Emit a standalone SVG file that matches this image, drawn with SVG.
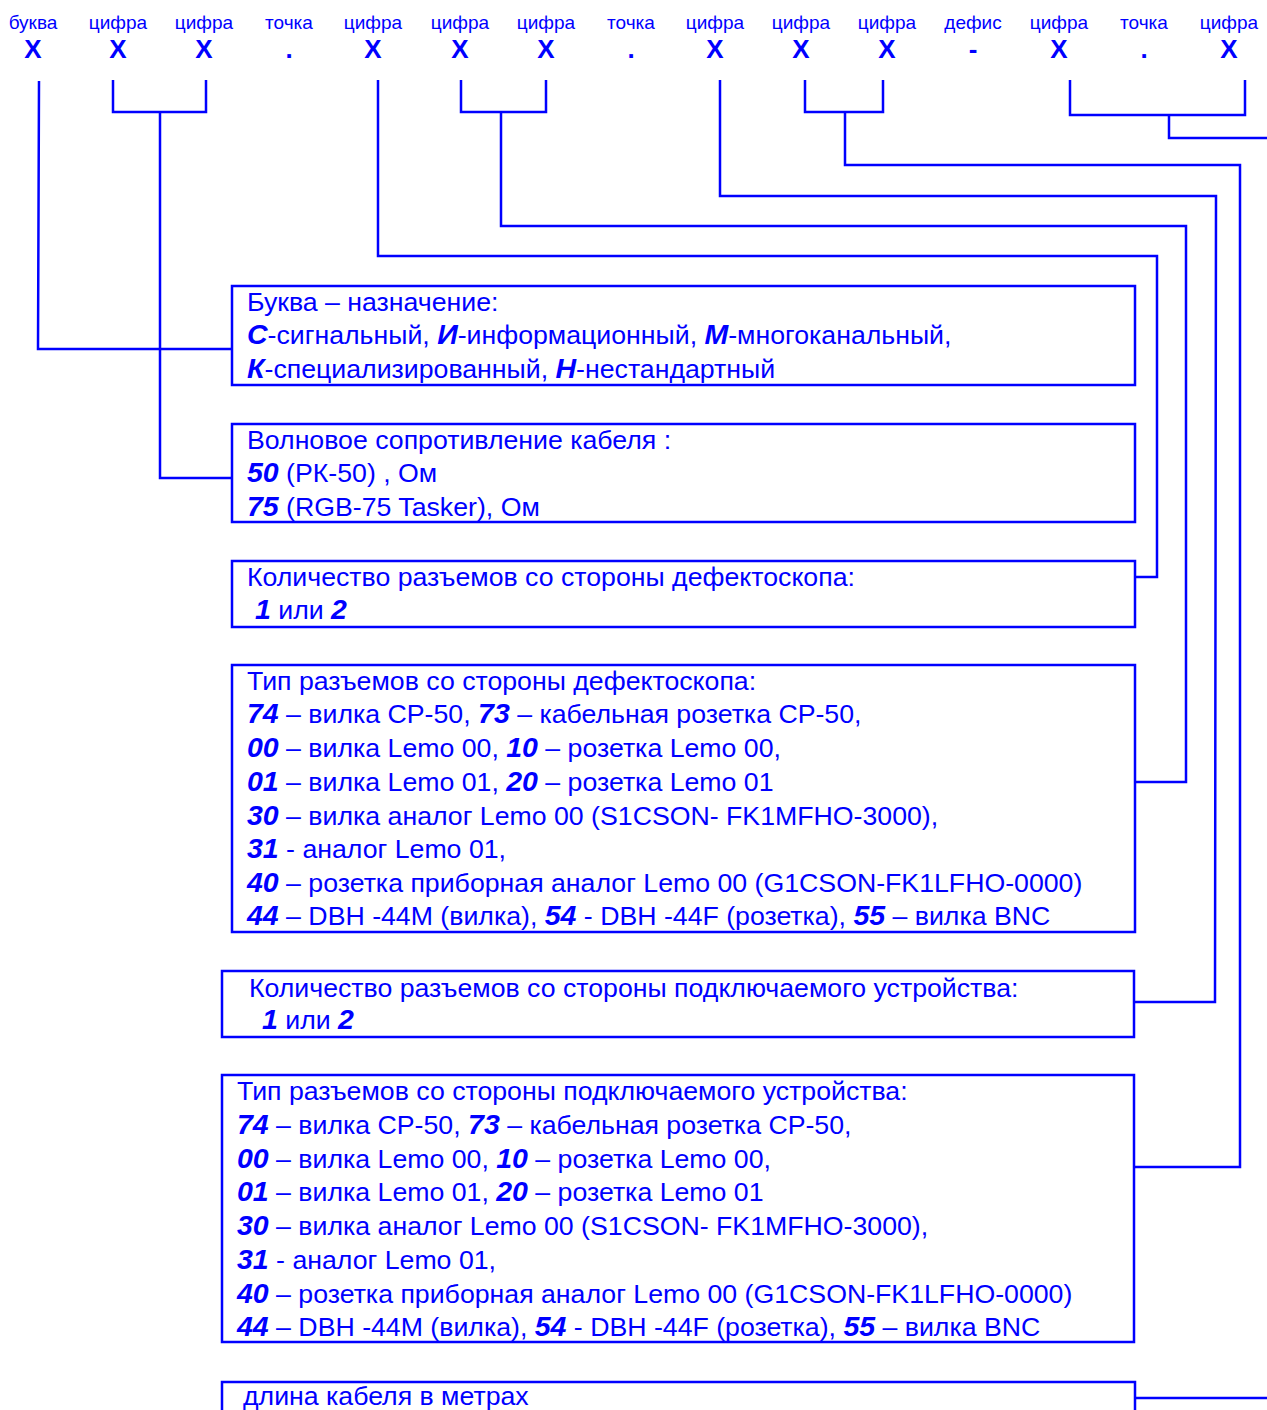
<svg xmlns="http://www.w3.org/2000/svg" width="1267" height="1410" viewBox="0 0 1267 1410">
<style>
.h{font-family:"Liberation Sans",Arial,sans-serif;font-size:19px;fill:#0000ff;text-anchor:middle}
.x{font-family:"Liberation Sans",Arial,sans-serif;font-size:26px;font-weight:bold;fill:#0000ff;text-anchor:middle}
.t{font-family:"Liberation Sans",Arial,sans-serif;font-size:26.7px;fill:#0000ff}
.b{font-weight:bold;font-style:italic;font-size:28.5px}
.box{fill:none;stroke:#0000ff;stroke-width:2.5}
.c{fill:none;stroke:#0000ff;stroke-width:2.5}
</style>
<rect width="1267" height="1410" fill="#ffffff"/>
<g id="header">
<text class="h" x="33" y="29">буква</text>
<text class="h" x="118" y="29">цифра</text>
<text class="h" x="204" y="29">цифра</text>
<text class="h" x="289" y="29">точка</text>
<text class="h" x="373" y="29">цифра</text>
<text class="h" x="460" y="29">цифра</text>
<text class="h" x="546" y="29">цифра</text>
<text class="h" x="631" y="29">точка</text>
<text class="h" x="715" y="29">цифра</text>
<text class="h" x="801" y="29">цифра</text>
<text class="h" x="887" y="29">цифра</text>
<text class="h" x="973" y="29">дефис</text>
<text class="h" x="1059" y="29">цифра</text>
<text class="h" x="1144" y="29">точка</text>
<text class="h" x="1229" y="29">цифра</text>
<text class="x" x="33" y="58">X</text>
<text class="x" x="118" y="58">X</text>
<text class="x" x="204" y="58">X</text>
<text class="x" x="289" y="58">.</text>
<text class="x" x="373" y="58">X</text>
<text class="x" x="460" y="58">X</text>
<text class="x" x="546" y="58">X</text>
<text class="x" x="631" y="58">.</text>
<text class="x" x="715" y="58">X</text>
<text class="x" x="801" y="58">X</text>
<text class="x" x="887" y="58">X</text>
<text class="x" x="973" y="58">-</text>
<text class="x" x="1059" y="58">X</text>
<text class="x" x="1144" y="58">.</text>
<text class="x" x="1229" y="58">X</text>
</g>
<g id="connectors">
<polyline class="c" points="39,81 38,349 232,349"/>
<polyline class="c" points="113,80 113,112 206,112 206,80"/>
<polyline class="c" points="160,112 160,478 232,478"/>
<polyline class="c" points="378,80 378,256 1157,256 1157,577 1135,577"/>
<polyline class="c" points="461,80 461,112 546,112 546,80"/>
<polyline class="c" points="501,112 501,226 1186,226 1186,782 1135,782"/>
<polyline class="c" points="720,80 720,196 1216,196 1215,1002 1135,1002"/>
<polyline class="c" points="805,80 805,112 883,112 883,80"/>
<polyline class="c" points="845,112 845,165 1240,165 1240,1167 1135,1167"/>
<polyline class="c" points="1070,80 1070,115 1245,115 1245,80"/>
<polyline class="c" points="1169,115 1169,138 1267,138"/>
<polyline class="c" points="1135,1398 1267,1398"/>
</g>
<g id="box1">
<rect class="box" x="232" y="286" width="903" height="99"/>
<text class="t" x="247" y="311">Буква – назначение:</text>
<text class="t" x="247" y="344"><tspan class="b">С</tspan>-сигнальный, <tspan class="b">И</tspan>-информационный, <tspan class="b">М</tspan>-многоканальный,</text>
<text class="t" x="247" y="378"><tspan class="b">К</tspan>-специализированный, <tspan class="b">Н</tspan>-нестандартный</text>
</g>
<g id="box2">
<rect class="box" x="232" y="424" width="903" height="98"/>
<text class="t" x="247" y="449">Волновое сопротивление кабеля :</text>
<text class="t" x="247" y="482"><tspan class="b">50</tspan> (РК-50) , Ом</text>
<text class="t" x="247" y="516"><tspan class="b">75</tspan> (RGB-75 Tasker), Ом</text>
</g>
<g id="box3">
<rect class="box" x="232" y="561" width="903" height="66"/>
<text class="t" x="247" y="586">Количество разъемов со стороны дефектоскопа:</text>
<text class="t" x="255" y="619"><tspan class="b">1</tspan> или <tspan class="b">2</tspan></text>
</g>
<g id="box4">
<rect class="box" x="232" y="665" width="903" height="267"/>
<text class="t" x="247" y="690">Тип разъемов со стороны дефектоскопа:</text>
<text class="t" x="247" y="723"><tspan class="b">74</tspan> – вилка СР-50, <tspan class="b">73</tspan> – кабельная розетка СР-50,</text>
<text class="t" x="247" y="757"><tspan class="b">00</tspan> – вилка Lemo 00, <tspan class="b">10</tspan> – розетка Lemo 00,</text>
<text class="t" x="247" y="791"><tspan class="b">01</tspan> – вилка Lemo 01, <tspan class="b">20</tspan> – розетка Lemo 01</text>
<text class="t" x="247" y="825"><tspan class="b">30</tspan> – вилка аналог Lemo 00 (S1CSON- FK1MFHO-3000),</text>
<text class="t" x="247" y="858"><tspan class="b">31</tspan> - аналог Lemo 01,</text>
<text class="t" x="247" y="892"><tspan class="b">40</tspan> – розетка приборная аналог Lemo 00 (G1CSON-FK1LFHO-0000)</text>
<text class="t" x="247" y="925"><tspan class="b">44</tspan> – DBH -44M (вилка), <tspan class="b">54</tspan> - DBH -44F (розетка), <tspan class="b">55</tspan> – вилка BNC</text>
</g>
<g id="box5">
<rect class="box" x="222" y="971" width="912" height="66"/>
<text class="t" x="249" y="997">Количество разъемов со стороны подключаемого устройства:</text>
<text class="t" x="262" y="1029"><tspan class="b">1</tspan> или <tspan class="b">2</tspan></text>
</g>
<g id="box6">
<rect class="box" x="222" y="1075" width="912" height="267"/>
<text class="t" x="237" y="1100">Тип разъемов со стороны подключаемого устройства:</text>
<text class="t" x="237" y="1134"><tspan class="b">74</tspan> – вилка СР-50, <tspan class="b">73</tspan> – кабельная розетка СР-50,</text>
<text class="t" x="237" y="1168"><tspan class="b">00</tspan> – вилка Lemo 00, <tspan class="b">10</tspan> – розетка Lemo 00,</text>
<text class="t" x="237" y="1201"><tspan class="b">01</tspan> – вилка Lemo 01, <tspan class="b">20</tspan> – розетка Lemo 01</text>
<text class="t" x="237" y="1235"><tspan class="b">30</tspan> – вилка аналог Lemo 00 (S1CSON- FK1MFHO-3000),</text>
<text class="t" x="237" y="1269"><tspan class="b">31</tspan> - аналог Lemo 01,</text>
<text class="t" x="237" y="1303"><tspan class="b">40</tspan> – розетка приборная аналог Lemo 00 (G1CSON-FK1LFHO-0000)</text>
<text class="t" x="237" y="1336"><tspan class="b">44</tspan> – DBH -44M (вилка), <tspan class="b">54</tspan> - DBH -44F (розетка), <tspan class="b">55</tspan> – вилка BNC</text>
</g>
<g id="box7">
<rect class="box" x="222" y="1382" width="913" height="60"/>
<text class="t" x="243" y="1405">длина кабеля в метрах</text>
</g>
</svg>
